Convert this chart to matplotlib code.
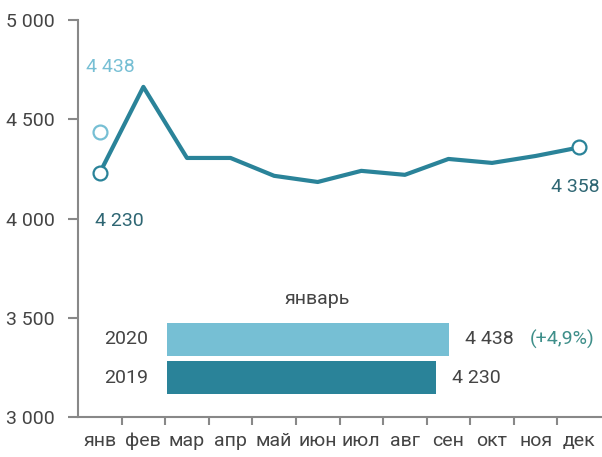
import matplotlib.pyplot as plt

months = ['янв', 'фев', 'мар', 'апр', 'май', 'июн', 'июл', 'авг', 'сен', 'окт', 'ноя', 'дек']
values_2019 = [4230, 4663, 4305, 4305, 4215, 4184, 4240, 4220, 4300, 4280, 4315, 4358]
jan_2020 = 4438
bar_years = ['2020', '2019']
bar_values = [4438, 4230]
yticks = [3000, 3500, 4000, 4500, 5000]

dark = '#2a8399'
light = '#76bfd4'
grey = '#444444'
label_dark = '#2e6673'

plt.rcParams['font.family'] = ['Roboto', 'DejaVu Sans']

fig = plt.figure(figsize=(6.02, 4.57), dpi=100)
ax = fig.add_axes([78 / 602, 40 / 457, 523 / 602, 397 / 457])

x = list(range(len(months)))
ax.plot(x, values_2019, color=dark, lw=3, zorder=2)
ax.plot([0, 11], [values_2019[0], values_2019[11]], 'o', ms=10, mfc='white',
        mec=dark, mew=1.6, zorder=3)
ax.plot([0], [jan_2020], 'o', ms=10, mfc='white', mec=light, mew=1.6, zorder=3)

ax.text(0.25, jan_2020 + 325, '4 438', color=light, fontsize=14, ha='center', va='center')
ax.text(0.45, values_2019[0] - 245, '4 230', color=label_dark, fontsize=14, ha='center', va='center')
ax.text(10.9, values_2019[11] - 197, '4 358', color=label_dark, fontsize=14, ha='center', va='center')

ax.set_xlim(-0.5, 11.5)
ax.set_ylim(3000, 5000)
ax.set_yticks(yticks)
ax.set_yticklabels([f'{v:,}'.replace(',', ' ') for v in yticks])
ax.set_xticks([i + 0.5 for i in range(11)])
ax.set_xticklabels([])
ax.set_xticks(x, minor=True)
ax.set_xticklabels(months, minor=True)
ax.tick_params(axis='x', which='minor', length=0, pad=11, labelsize=14, labelcolor=grey)
ax.tick_params(axis='x', which='major', length=6, color='#888888', width=1.5)
ax.tick_params(axis='y', length=7, color='#888888', width=1.5, labelsize=14, labelcolor=grey, pad=10)
for s in ['top', 'right']:
    ax.spines[s].set_visible(False)
for s in ['left', 'bottom']:
    ax.spines[s].set_color('#888888')
    ax.spines[s].set_linewidth(1.5)

# inset bars for January
bx = fig.add_axes([167 / 602, 60 / 457, 317.7 / 602, 77 / 457])
bx.barh([1, 0], bar_values, height=0.86, color=[light, dark], left=0)
bx.set_xlim(0, 5000)
bx.set_ylim(-0.5, 1.5)
bx.axis('off')
for i, (yr, v) in enumerate(zip(bar_years, bar_values)):
    yy = 1 - i
    bx.text(-650, yy, yr, fontsize=14, color=grey, ha='center', va='center')
    bx.text(v + 250, yy, f'{v:,}'.replace(',', ' '), fontsize=14, color=grey, ha='left', va='center')
bx.text(bar_values[0] + 1270, 1, '(+4,9%)', fontsize=14, color='#3f8f8a', ha='left', va='center')
bx.text(2370, 2.05, 'январь', fontsize=14, color=grey, ha='center', va='center')

fig.savefig('out.png', dpi=100)
